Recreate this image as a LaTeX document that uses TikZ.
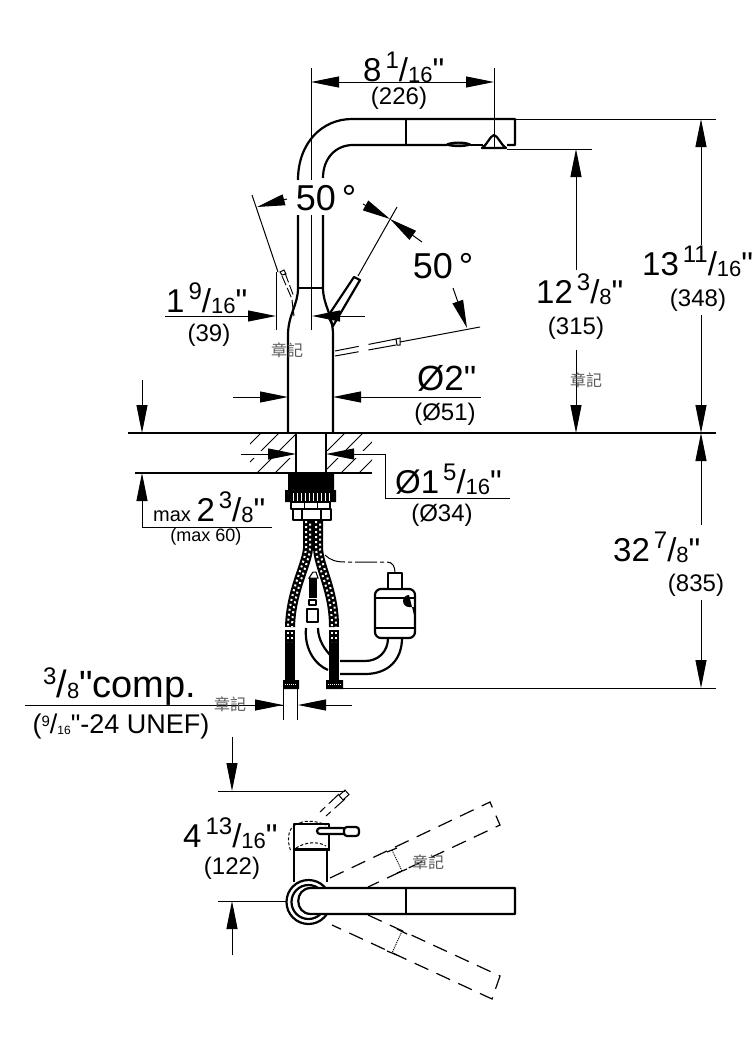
\documentclass[tikz,border=0pt]{standalone}
\usepackage{fontspec}
\setmainfont{Liberation Sans}
\newfontfamily\plainsans{Liberation Sans}
\newfontfamily\cjk{Noto Sans CJK TC}
\usetikzlibrary{arrows.meta}
\newcommand{\qt}{{\plainsans"}}
\newcommand{\bigdim}[3]{{\fontsize{33}{33}\selectfont #1\hspace{4pt}\raisebox{13pt}{\fontsize{24}{24}\selectfont #2}/\raisebox{-1pt}{\fontsize{22}{22}\selectfont #3}\qt}}
\tikzset{
	thinline/.style={line width=1pt,line cap=butt},
	thickline/.style={line width=2.2pt,line join=round},
	dimarrow/.style={thinline,-{Triangle[length=28pt,width=11pt]}},
	sizelabel/.style={anchor=base west,inner sep=0pt,text=black},
	mmlabel/.style={inner sep=0pt,font=\fontsize{24}{24}\selectfont},
	stamp/.style={inner sep=0pt,text=black!65,font=\cjk\fontsize{16}{16}\selectfont},
	dashedline/.style={line width=1.2pt,dash pattern=on 15pt off 9pt}
}
\newcommand{\braid}[1]{
	\draw[line width=10pt,black] #1;
	\draw[line width=2pt,white,dash pattern=on 2pt off 3pt,xshift=-2pt] #1;
	\draw[line width=2pt,white,dash pattern=on 2pt off 3pt,dash phase=2.5pt,xshift=2pt] #1;
}
\begin{document}
\begin{tikzpicture}[x=1pt,y=-1pt]
	\useasboundingbox (0,0) rectangle (753,1055);

	\draw[thickline] (298,180) .. controls (298,143) and (322,119) .. (352,119) -- (515,119) -- (515,145) -- (507,145);
	\draw[thickline] (323,178) .. controls (323,158) and (336,145) .. (353,145) -- (447,145);
	\draw[thickline] (470,145) -- (483,145);
	\draw[thickline] (406,119) -- (406,145);
	\draw[thickline,fill=black!45] (447,144.5) .. controls (452,142) and (465,142) .. (470,144.5) .. controls (465,146.5) and (452,146.5) .. (447,144.5);
	\draw[thickline] (482,148) .. controls (487,145) and (490,136) .. (494,135) .. controls (498,136) and (501,145) .. (506,148) -- cycle;
	\draw[thickline] (298,215) -- (298,288) .. controls (298,305) and (288,315) .. (288,335) -- (288,433);
	\draw[thickline] (323,215) -- (323,288) .. controls (323,305) and (333,315) .. (333,335) -- (333,433);
	\draw[thickline] (298,288) -- (323,288);
	\draw[thinline] (311,68) -- (311,180) (311,215) -- (311,330);
	\draw[thinline] (494,68) -- (494,148);
	\draw[thinline] (515,119) -- (716,119);
	\draw[thinline] (507,149) -- (592,149);

	\draw[dimarrow] (360,82) -- (311,82);
	\draw[dimarrow] (450,82) -- (494,82);
	\draw[thinline] (360,82) -- (450,82);
	\node[sizelabel] (spansize) at (363,81) {\bigdim{8}{1}{16}};
	\node[mmlabel] (spanmm) at (399,98) {(226)};

	\draw[thinline] (252,195) -- (278,272);
	\draw[dimarrow] (287,199) -- (257,207);
	\draw[thinline] (280,272) -- (284,270) -- (286,274) -- (282,275) -- cycle;
	\draw[line width=0.9pt,dash pattern=on 10pt off 3pt] (282,276) -- (292,299);
	\draw[line width=0.9pt,dash pattern=on 10pt off 3pt] (285,273) -- (294,297);
	\draw[thinline] (292,300) -- (294,316);
	\node[inner sep=0pt,font=\fontsize{36}{36}\selectfont] (tiltleft) at (326,198) {50\,°};

	\draw[thinline] (397,207) -- (358,276);
	\draw[thinline,-{Triangle[length=28pt,width=11pt]}] (363,204) -- (390,219);
	\draw[dimarrow] (422,242) -- (390,219);
	\draw[thickline] (354,277) -- (360,280) -- (333,326) -- (328,316) -- cycle;
	\draw[thinline] (480,327) -- (400,342);
	\draw[thinline] (400,338) -- (396,339) -- (397,345) -- (400,345) -- cycle;
	\draw[thinline,dash pattern=on 28pt off 10pt] (396,339) -- (335,351);
	\draw[thinline,dash pattern=on 28pt off 10pt] (396,345) -- (335,356);
	\draw[dimarrow] (453,288) -- (467,328);
	\node[inner sep=0pt,font=\fontsize{36}{36}\selectfont] (tiltright) at (443,266) {50\,°};

	\draw[thinline] (276,272) -- (276,330);
	\draw[dimarrow] (165,316) -- (276,316);
	\draw[dimarrow] (365,316) -- (312,316);
	\node[sizelabel] (leversize) at (166,312) {\bigdim{1}{9}{16}};
	\node[mmlabel] (levermm) at (209,335) {(39)};
	\node[stamp] (stampa) at (287,350) {章記};

	\draw[dimarrow] (233,397) -- (288,397);
	\draw[dimarrow] (481,397) -- (333,397);
	\node[sizelabel,font=\fontsize{35}{35}\selectfont] (bodysize) at (417,390) {Ø2\qt};
	\node[mmlabel] (bodymm) at (445,414) {(Ø51)};

	\draw[line width=1.4pt] (128,433) -- (716,433);
	\draw[line width=1.4pt] (135,473) -- (372,473);
	\begin{scope}
		\clip (250,434) rectangle (295,472) (327,434) rectangle (372,472);
		\foreach \hx in {261,279,297,315,345,363,381,399,417} {
			\draw[thinline] (\hx-40,473) -- (\hx,433);
		}
	\end{scope}
	\fill[white] (250,451) rectangle (295,457.5);
	\fill[white] (327,451) rectangle (372,457.5);
	\draw[thickline,fill=white] (296,433) rectangle (326,473);
	\draw[dimarrow] (241,454) -- (296,454);
	\draw[dimarrow] (385,454) -- (326,454);
	\draw[thinline] (385,454) -- (385,498) -- (510,498);
	\node[sizelabel,font=\fontsize{33}{33}\selectfont] (holesize) at (395,493) {Ø\bigdim{1}{5}{16}};
	\node[mmlabel] (holemm) at (442,515) {(Ø34)};

	\draw[dimarrow] (142,380) -- (142,433);
	\draw[dimarrow] (142,527) -- (142,473);
	\draw[thinline] (142,527) -- (272,527);
	\node[sizelabel] (decksize) at (153,521) {\fontsize{20}{20}\selectfont max \bigdim{2}{3}{8}};
	\node[inner sep=0pt,font=\fontsize{18}{18}\selectfont] (deckmm) at (206,537) {(max 60)};

	\fill[black] (288,474) rectangle (334,490) (285,490) rectangle (336,502);
	\foreach \tx in {293,297,...,329} {
		\draw[white,line width=1pt] (\tx,493) -- (\tx,501);
	}
	\draw[thickline,fill=white] (291,502) rectangle (330,509);
	\draw[thinline] (304,502) -- (304,509) (317,502) -- (317,509);
	\draw[thickline,fill=white] (293,509) rectangle (331,520);
	\draw[thickline] (302,509) -- (302,520) (321,509) -- (321,520);

	\braid{(308,521) -- (308,548) .. controls (307,565) and (291,590) .. (290,627)}
	\braid{(318,521) -- (318,548) .. controls (319,568) and (334,590) .. (334,627)}
	\draw[line width=10pt] (290,630) -- (290,682);
	\draw[line width=10pt] (334,630) -- (334,682);
	\draw[line width=2pt,white,dash pattern=on 2pt off 3pt] (288,632) -- (288,642) (292,632) -- (292,642) (332,632) -- (332,642) (336,632) -- (336,642);
	\fill[black] (283,680) rectangle (299,689) (326,680) rectangle (343,689);
	\draw[white,line width=1pt,densely dotted] (285,684) -- (297,684) (328,684) -- (341,684);

	\fill[black] (309,578) rectangle (317,598);
	\draw[thinline,fill=white] (313,572) -- (316,572) -- (318,578) -- (309,578) -- cycle;
	\draw[thickline,fill=white] (309,600) rectangle (316,605);
	\draw[thickline,fill=white] (307,609) rectangle (318,622);
	\draw[thickline] (306,628) .. controls (304,650) and (316,665) .. (328,670);
	\draw[thickline] (318,628) .. controls (318,640) and (325,650) .. (332,657);

	\draw[thickline,rounded corners=6pt,fill=white] (375,589) rectangle (415,638);
	\draw[thickline] (375,598) -- (415,598) (375,628) -- (415,628);
	\draw[thickline,fill=white] (388,573) rectangle (402,589);
	\fill[black] (409,607) arc[start angle=-90,end angle=-270,radius=6pt] -- (415,619) -- (415,607) -- cycle;
	\draw[thinline,dash pattern=on 22pt off 3pt on 4pt off 3pt] (325,555) .. controls (330,560) and (336,562) .. (345,562) -- (387,562) .. controls (393,562) and (395,567) .. (395,573);
	\draw[thickline] (388,638) .. controls (388,652) and (378,661) .. (365,661) -- (340,661);
	\draw[thickline] (402,638) .. controls (402,660) and (388,674) .. (365,674) -- (340,674);

	\draw[thinline] (343,688) -- (716,688);
	\draw[thinline] (283,689) -- (283,720) (297,689) -- (297,720);
	\draw[thinline] (25,705) -- (283,705);
	\draw[dimarrow] (250,705) -- (283,705);
	\draw[dimarrow] (352,705) -- (298,705);
	\node[sizelabel,font=\fontsize{38}{38}\selectfont] (hosesize) at (43,697) {\raisebox{13pt}{\fontsize{24}{24}\selectfont 3}/\raisebox{-1pt}{\fontsize{22}{22}\selectfont 8}\qt comp.};
	\node[inner sep=0pt,font=\fontsize{27}{27}\selectfont] (hosethread) at (121,727) {(\raisebox{7pt}{\fontsize{15}{15}\selectfont 9}/\raisebox{-1pt}{\fontsize{12}{12}\selectfont 16}\qt-24 UNEF)};
	\node[stamp] (stampb) at (230,704) {章記};

	\draw[dimarrow] (576,270) -- (576,149);
	\draw[dimarrow] (576,350) -- (576,433);
	\node[sizelabel] (spoutsize) at (536,303) {\bigdim{12}{3}{8}};
	\node[mmlabel] (spoutmm) at (576,328) {(315)};
	\node[stamp] (stampc) at (586,380) {章記};

	\draw[dimarrow] (701,245) -- (701,119);
	\draw[dimarrow] (701,315) -- (701,433);
	\node[sizelabel] (totalsize) at (642,275) {\bigdim{13}{11}{16}};
	\node[mmlabel] (totalmm) at (698,300) {(348)};

	\draw[dimarrow] (701,525) -- (701,433);
	\draw[dimarrow] (701,600) -- (701,688);
	\node[sizelabel] (hoselen) at (613,561) {\bigdim{32}{7}{8}};
	\node[mmlabel] (hosemm) at (696,585) {(835)};

	\draw[dimarrow] (232,737) -- (232,791);
	\draw[dimarrow] (232,955) -- (232,901);
	\draw[thinline] (218,791) -- (345,791);
	\draw[thinline] (218,901) -- (288,901);
	\node[sizelabel] (reachsize) at (183,847) {\bigdim{4}{13}{16}};
	\node[mmlabel] (reachmm) at (232,868) {(122)};

	\draw[thinline,rotate around={42:(344,795)}] (340,792) rectangle (348,798);
	\draw[thinline,dash pattern=on 14pt off 5pt] (339,794) -- (320,812);
	\draw[thinline,dash pattern=on 14pt off 5pt] (345,799) -- (326,816);
	\draw[thickline] (294,850) -- (294,824) -- (329,824) -- (329,850);
	\draw[line width=3pt] (293,849) -- (330,849);
	\draw[thickline] (294,850) -- (294,882) (327,850) -- (327,882);
	\draw[thickline,fill=white,rounded corners=3pt] (317,828) rectangle (346,834);
	\draw[thickline,fill=white,rounded corners=3pt] (344,827) rectangle (359,836);
	\draw[thinline,densely dashed] (300,823) .. controls (290,825) and (285,835) .. (291,852);
	\draw[thinline,densely dashed] (300,823) .. controls (305,820) and (318,821) .. (326,825);
	\draw[thinline,densely dashed] (296,848) .. controls (305,842) and (318,841) .. (326,846);

	\draw[dashedline] (330,878) -- (490,802) -- (500,825) -- (368,887);
	\draw[dashedline] (368,915) -- (500,976) -- (492,999) -- (332,925);
	\draw[thinline,densely dotted] (392,850) -- (402,871);
	\draw[line width=1.2pt] (387,852) -- (397,848) (397,873) -- (407,869);
	\draw[thinline,densely dotted] (402,931) -- (392,953);
	\draw[line width=1.2pt] (397,929) -- (407,934) (387,951) -- (397,955);
	\node[stamp] (stampd) at (428,862) {章記};

	\draw[thickline,fill=white] (308.5,902) circle[radius=22pt];
	\draw[thickline] (308.5,902) circle[radius=17pt];
	\draw[thickline,fill=white] (311,888) -- (515,888) -- (515,914) -- (311,914) .. controls (294,914) and (294,888) .. (311,888) -- cycle;
	\draw[thickline] (406,888) -- (406,914);
\end{tikzpicture}
\end{document}
